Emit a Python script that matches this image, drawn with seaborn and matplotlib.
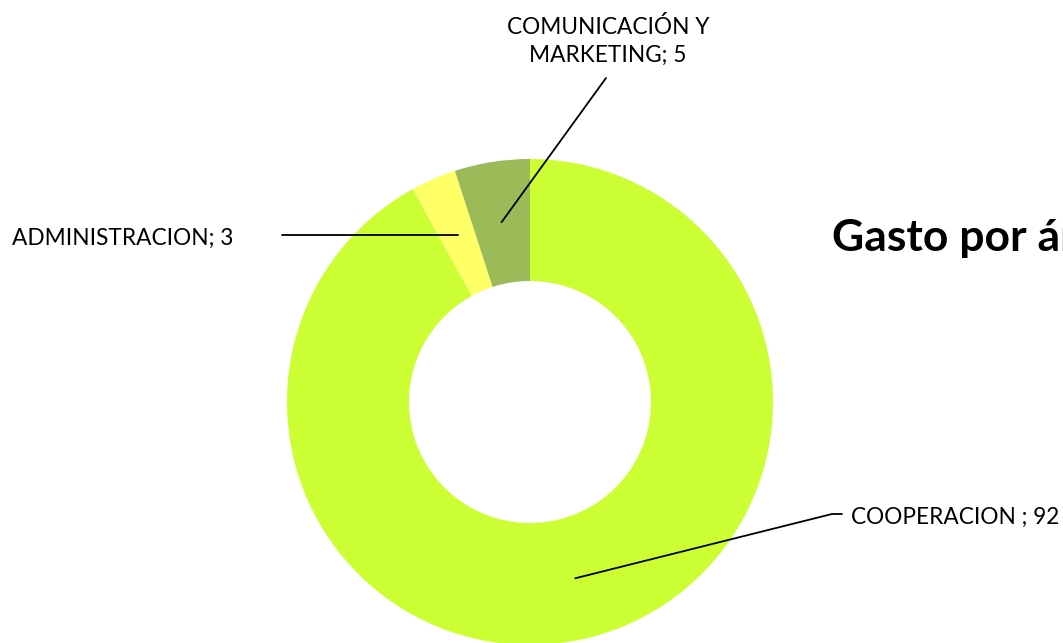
import numpy as np
import matplotlib
matplotlib.use('Agg')
from matplotlib import pyplot as plt
import seaborn as sns

# datos del gráfico
areas = ['COOPERACION', 'ADMINISTRACION', 'COMUNICACIÓN Y MARKETING']
gastos = [92, 3, 5]
etiquetas = ['COOPERACION ; 92', 'ADMINISTRACION; 3', 'COMUNICACIÓN Y\nMARKETING; 5']
colores = ['#CCFF33', '#FFFF66', '#9BBB59']

sns.set_theme(style='white')
plt.rcParams['font.family'] = ['Lato', 'DejaVu Sans']

W, H = 1063, 643
fig = plt.figure(figsize=(W / 100, H / 100), dpi=100)
ax = fig.add_axes([0, 0, 1, 1])

centro = (530, H - 402)
radio = 243
ancho = 122

wedges, _ = ax.pie(gastos, colors=colores, startangle=90, counterclock=False,
                   radius=radio, center=centro,
                   wedgeprops=dict(width=ancho, edgecolor='none'))

ax.set_xlim(0, W)
ax.set_ylim(0, H)
ax.set_aspect('equal')
ax.axis('off')

# punto de inicio de cada línea guía (mitad del anillo)
r_med = radio - ancho / 2
def punto(w):
    ang = np.deg2rad((w.theta1 + w.theta2) / 2)
    return centro[0] + r_med * np.cos(ang), centro[1] + r_med * np.sin(ang)

fs = 16.3
# COOPERACION
x0, y0 = punto(wedges[0])
ax.plot([x0, 832, 842], [y0, H - 514, H - 514], color='black', lw=1.3)
ax.text(851, H - 517, etiquetas[0], fontsize=fs, color='black', ha='left', va='center')
# ADMINISTRACION
x0, y0 = punto(wedges[1])
ax.plot([x0, 282], [y0, y0], color='black', lw=1.3)
ax.text(12, H - 238, etiquetas[1], fontsize=fs, color='black', ha='left', va='center')
# COMUNICACIÓN
x0, y0 = punto(wedges[2])
ax.plot([x0, 606], [y0, H - 78], color='black', lw=1.3)
ax.text(608, H - 41, etiquetas[2], fontsize=fs, color='black', ha='center', va='center',
        linespacing=1.45)

# título (cortado por el borde, como en la referencia)
ax.text(832, H - 238, 'Gasto por área', fontsize=32, fontweight='bold',
        color='black', ha='left', va='center', clip_on=False)

plt.savefig('out.png', dpi=100)
